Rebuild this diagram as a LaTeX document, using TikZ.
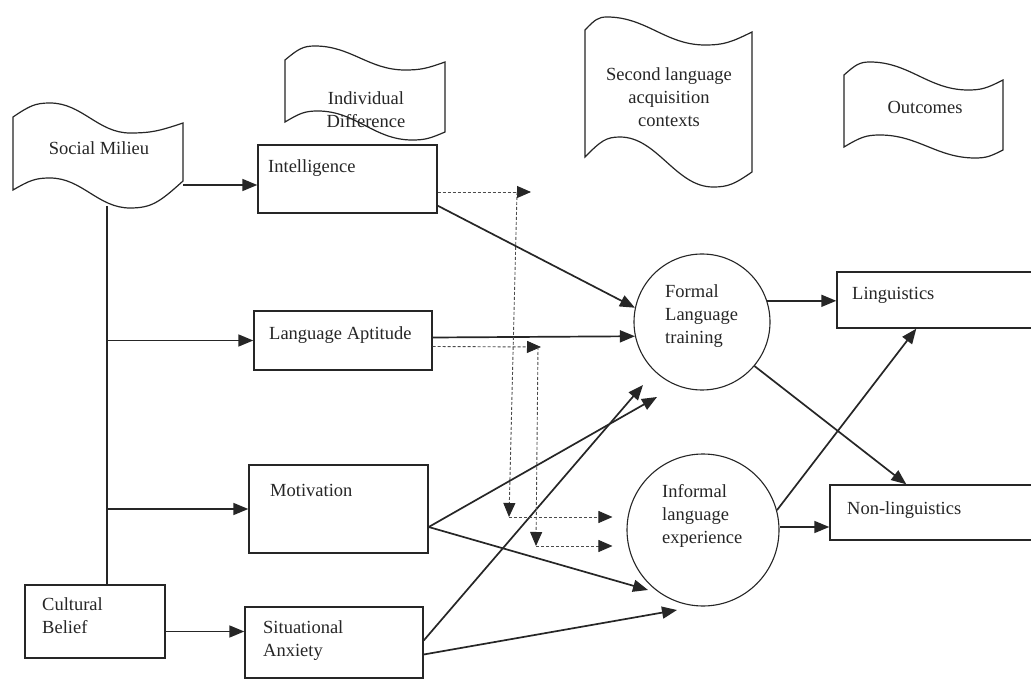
\documentclass[tikz,border=0pt]{standalone}
\usepackage{fontspec}
\setmainfont{Liberation Serif}
\usetikzlibrary{arrows.meta,calc}
\newcommand{\flagedge}[8]{(#1,#2) .. controls ({#1+0.45*(#3-#1)},{#2-0.8*(#2-#4)}) and ({#3-0.4*(#3-#1)},#4) .. (#3,#4) .. controls ({#3+0.4*(#5-#3)},#4) and ({#5-0.4*(#5-#3)},#6) .. (#5,#6) .. controls ({#5+0.4*(#7-#5)},#6) and ({#7-0.45*(#7-#5)},{#8+0.8*(#6-#8)}) .. (#7,#8)}
\begin{document}
\begin{tikzpicture}[x=1pt,y=-1pt,
  every node/.style={font=\fontsize{18.5}{23}\selectfont, text=black!85},
  txt/.style={inner sep=0pt, align=left, anchor=west},
  ctxt/.style={inner sep=0pt, align=center},
  box/.style={draw=black!85, line width=1.4pt, inner sep=0pt},
  ring/.style={draw=black!85, circle, line width=1.1pt, inner sep=0pt},
  flag/.style={draw=black!85, line width=1.2pt},
  ln/.style={draw=black!85, line width=1.5pt},
  arr/.style={draw=black!85, line width=1.7pt, -{Triangle[length=15pt,width=12pt]}},
  darr/.style={draw=black!70, line width=0.9pt, dash pattern=on 3pt off 2pt, -{Triangle[length=14pt,width=12pt,color=black!85]}}
]
\fill[white] (0,0) rectangle (1031,684);
\useasboundingbox (0,0) rectangle (1031,684);

% banners
\draw[flag] \flagedge{13}{117}{50}{103}{130}{133}{183}{123} -- \flagedge{183}{181}{130}{208}{50}{178}{13}{190} -- cycle;
\draw[flag] \flagedge{285}{60}{315}{46}{405}{70}{445}{62} -- \flagedge{445}{132}{412}{140}{318}{111}{285}{122} -- cycle;
\draw[flag] \flagedge{585}{30}{607}{17}{705}{45}{752}{32} -- \flagedge{752}{172}{713}{187}{620}{137}{585}{157} -- cycle;
\draw[flag] \flagedge{844}{75}{870}{62}{968}{90}{1003}{80} -- \flagedge{1003}{150}{975}{158}{880}{135}{844}{147} -- cycle;
\node[ctxt] (sm) at (99,148) {Social Milieu};
\node[ctxt] (idf) at (366,110) {Individual\\Difference};
\node[ctxt] (slac) at (669,97) {Second language\\acquisition\\contexts};
\node[ctxt] (oc) at (925,107) {Outcomes};

% boxes
\node[box, minimum width=179pt, minimum height=68pt] (in) at (347.5,179) {};
\node[txt] (in-t) at (268,168) {Intelligence};
\node[box, minimum width=178pt, minimum height=59pt] (la) at (343,340.5) {};
\node[txt] (la-t) at (269,335) {Language Aptitude};
\node[box, minimum width=179pt, minimum height=88pt] (mo) at (338.5,509) {};
\node[txt] (mo-t) at (270,490) {Motivation};
\node[box, minimum width=178pt, minimum height=71pt] (sa) at (334,642.5) {};
\node[txt] (sa-t) at (263,641) {Situational\\Anxiety};
\node[box, minimum width=140pt, minimum height=73pt] (cb) at (95,621.5) {};
\node[txt] (cb-t) at (42,616) {Cultural\\Belief};
\node[ring, minimum size=136pt] (fl) at (702,322) {};
\node[txt] (fl-t) at (665,316) {Formal\\Language\\training};
\node[ring, minimum size=152pt] (il) at (703,530) {};
\node[txt] (il-t) at (662,516) {Informal\\language\\experience};
\node[box, minimum width=203pt, minimum height=56pt] (li) at (938.5,300) {};
\node[txt] (li-t) at (852,295) {Linguistics};
\node[box, minimum width=210pt, minimum height=55pt] (nl) at (935,512.5) {};
\node[txt] (nl-t) at (847,510) {Non-linguistics};

% solid connectors
\coordinate (smr) at (183,185);
\coordinate (smb) at (107,206);
\draw[arr] (smr) -- (smr -| in.west);
\draw[ln] (smb) -- (smb |- cb.north);
\draw[arr] (smb |- la.west) -- (la.west);
\draw[arr] (smb |- mo.west) -- (mo.west);
\draw[arr] ([yshift=-10pt]cb.east) -- ([yshift=-10pt]cb.east -| sa.west);
\draw[arr] ([yshift=8pt]in.south east) -- (fl.168);
\draw[arr] ([yshift=3pt]la.east) -- (fl.192);
\coordinate (mor) at ([yshift=-18pt]mo.east);
\draw[arr] (mor) -- ($(fl.center)+(-45,75)$);
\draw[arr] (mor) -- ($(il.center)+(-55,60)$);
\draw[arr] ([yshift=2pt]sa.east) -- ($(fl.center)+(-59,63)$);
\draw[arr] ([yshift=-12pt]sa.east) -- ($(il.center)+(-26,80)$);
\draw[arr] (fl.18) -- (fl.18 -| li.west);
\draw[arr] (fl.320) -- ($(nl.north west)+(77,0)$);
\draw[arr] (il.15) -- ($(li.south west)+(80,0)$);
\draw[arr] ([yshift=3pt]il.east) -- ([yshift=3pt]il.east -| nl.west);

% dashed connectors
\coordinate (d1e) at (531,192);
\coordinate (d1) at (517,192);
\coordinate (d1v) at (509,517);
\coordinate (d2e) at (541,347);
\coordinate (d2) at (538,347);
\coordinate (d2v) at (536,546);
\draw[darr] ([yshift=-13pt]in.east) -- (d1e);
\draw[darr] (d1) -- (d1v);
\draw[darr, shorten >=14pt] (d1v) -- (d1v -| il.west);
\draw[darr] ([yshift=-6pt]la.east) -- (d2e);
\draw[darr] (d2) -- (d2v);
\draw[darr, shorten >=14pt] (d2v) -- (d2v -| il.west);
\end{tikzpicture}
\end{document}
